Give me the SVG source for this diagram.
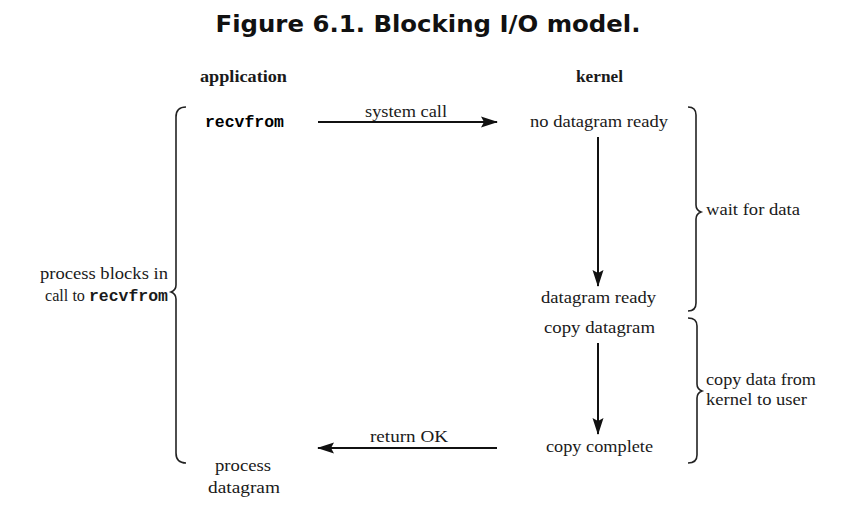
<svg xmlns="http://www.w3.org/2000/svg" width="861" height="509" viewBox="0 0 861 509">
<defs>
<style>
.t{font-family:"Liberation Serif","DejaVu Serif",serif;font-size:17.5px;fill:#1a1a1a}
.b{font-weight:bold}
.m{font-family:"Liberation Mono","DejaVu Sans Mono",monospace;font-weight:bold;font-size:16.5px}
.title{font-family:"DejaVu Sans","Verdana",sans-serif;font-weight:bold;font-size:23px;fill:#111}
.ln{stroke:#111;stroke-width:2;fill:none}
.br{stroke:#222;stroke-width:1.6;fill:none}
</style>
<marker id="ah" viewBox="0 0 17 12" refX="16" refY="6" markerWidth="17" markerHeight="12" markerUnits="userSpaceOnUse" orient="auto">
<path d="M0,0.5 L17,6 L0,11.5 L3,6 Z" fill="#111"/>
</marker>
</defs>
<rect width="861" height="509" fill="#fff"/>
<text class="title" x="428" y="32" text-anchor="middle" textLength="425" lengthAdjust="spacingAndGlyphs">Figure 6.1. Blocking I/O model.</text>

<g id="app-header"><text class="t b" x="243.5" y="82" text-anchor="middle" textLength="87" lengthAdjust="spacingAndGlyphs">application</text></g>
<g id="kernel-header"><text class="t b" x="599.5" y="82" text-anchor="middle" textLength="47" lengthAdjust="spacingAndGlyphs">kernel</text></g>

<g id="recvfrom"><text class="m" x="244.5" y="127" text-anchor="middle" textLength="79" lengthAdjust="spacingAndGlyphs">recvfrom</text></g>
<g id="no-datagram-ready"><text class="t" x="599" y="127" text-anchor="middle" textLength="138" lengthAdjust="spacingAndGlyphs">no datagram ready</text></g>
<g id="datagram-ready"><text class="t" x="598.5" y="303" text-anchor="middle" textLength="115" lengthAdjust="spacingAndGlyphs">datagram ready</text></g>
<g id="copy-datagram"><text class="t" x="599.5" y="333" text-anchor="middle" textLength="111" lengthAdjust="spacingAndGlyphs">copy datagram</text></g>
<g id="copy-complete"><text class="t" x="599.5" y="452" text-anchor="middle" textLength="107" lengthAdjust="spacingAndGlyphs">copy complete</text></g>
<g id="process-datagram">
<text class="t" x="243" y="471" text-anchor="middle" textLength="56" lengthAdjust="spacingAndGlyphs">process</text>
<text class="t" x="244" y="493" text-anchor="middle" textLength="72" lengthAdjust="spacingAndGlyphs">datagram</text>
</g>

<g id="block-brace">
<path class="br" d="M186,107 Q176,107 176,117 L176,285 Q176,290 171,292 Q176,294 176,299 L176,453 Q176,463 186,463"/>
<text class="t" x="168" y="279" text-anchor="end" textLength="128" lengthAdjust="spacingAndGlyphs">process blocks in</text>
<text class="t" x="168" y="301" text-anchor="end"><tspan textLength="44" lengthAdjust="spacingAndGlyphs">call to </tspan><tspan class="m" textLength="79" lengthAdjust="spacingAndGlyphs">recvfrom</tspan></text>
</g>

<g id="wait-brace">
<path class="br" d="M688,107 Q696,107 696,115 L696,205 Q696,210 701,212 Q696,214 696,219 L696,303 Q696,311 688,311"/>
<text class="t" x="706" y="215" textLength="94" lengthAdjust="spacingAndGlyphs">wait for data</text>
</g>

<g id="copy-brace">
<path class="br" d="M688,318 Q697,318 697,326 L697,384 Q697,389 702,391 Q697,393 697,398 L697,455 Q697,463 688,463"/>
<text class="t" x="706" y="385" textLength="110" lengthAdjust="spacingAndGlyphs">copy data from</text>
<text class="t" x="706" y="405" textLength="101" lengthAdjust="spacingAndGlyphs">kernel to user</text>
</g>

<g id="connectors">
<line class="ln" x1="318" y1="122" x2="497" y2="122" marker-end="url(#ah)"/>
<text class="t" x="406" y="117" text-anchor="middle" textLength="82" lengthAdjust="spacingAndGlyphs">system call</text>
<line class="ln" x1="598" y1="137" x2="598" y2="286" marker-end="url(#ah)"/>
<line class="ln" x1="598" y1="343" x2="598" y2="434" marker-end="url(#ah)"/>
<line class="ln" x1="497" y1="448" x2="318" y2="448" marker-end="url(#ah)"/>
<text class="t" x="409" y="442" text-anchor="middle" textLength="78" lengthAdjust="spacingAndGlyphs">return OK</text>
</g>
</svg>
